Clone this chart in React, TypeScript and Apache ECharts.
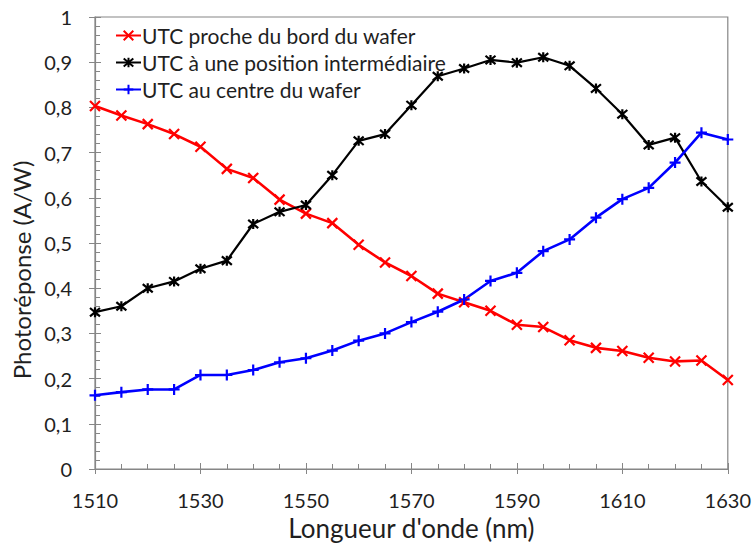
import React, { useEffect, useRef } from "react";
import * as echarts from "echarts";

const wavelengths = [1510, 1515, 1520, 1525, 1530, 1535, 1540, 1545, 1550, 1555, 1560, 1565, 1570, 1575, 1580, 1585, 1590, 1595, 1600, 1605, 1610, 1615, 1620, 1625, 1630];
const edgeValues = [0.803, 0.782, 0.763, 0.741, 0.713, 0.664, 0.644, 0.596, 0.565, 0.544, 0.496, 0.457, 0.427, 0.388, 0.369, 0.35, 0.319, 0.314, 0.285, 0.268, 0.261, 0.246, 0.238, 0.24, 0.197];
const midValues = [0.347, 0.36, 0.4, 0.415, 0.443, 0.461, 0.542, 0.569, 0.584, 0.65, 0.726, 0.741, 0.805, 0.869, 0.886, 0.905, 0.899, 0.911, 0.892, 0.842, 0.785, 0.717, 0.733, 0.636, 0.579];
const centerValues = [0.163, 0.17, 0.176, 0.176, 0.208, 0.208, 0.219, 0.236, 0.245, 0.262, 0.284, 0.3, 0.325, 0.348, 0.375, 0.416, 0.434, 0.482, 0.508, 0.556, 0.597, 0.622, 0.678, 0.744, 0.729];
const seriesNames = ["UTC proche du bord du wafer", "UTC à une position intermédiaire", "UTC au centre du wafer"];
const xTitle = "Longueur d'onde (nm)";
const yTitle = "Photoréponse (A/W)";

const FONT = "Lato";
const CROSS = "path://M0,0L10,10M10,0L0,10";
const STAR = "path://M0,0L10,10M10,0L0,10M5,-1L5,11";
const PLUS = "path://M5,0L5,10M0,5L10,5";

function pairs(vals: number[]) {
  return wavelengths.map((w, i) => [w, vals[i]]);
}

export default function App() {
  const ref = useRef<HTMLDivElement>(null);
  useEffect(() => {
    if (!ref.current) return;
    const chart = echarts.init(ref.current, null, { renderer: "svg" });
    const mk = (name: string, vals: number[], color: string, symbol: string, lw: number, size: number) => ({
      name,
      type: "line",
      data: pairs(vals),
      symbol,
      symbolSize: size,
      showSymbol: true,
      lineStyle: { color, width: lw },
      itemStyle: { color: "none", borderColor: color, borderWidth: 2.2 },
      xAxisIndex: 0,
      yAxisIndex: 0,
      z: 3,
    });
    const axisGrey = "#868686";
    const textColor = "#1f1f1f";
    chart.setOption({
      animation: false,
      backgroundColor: "#fff",
      grid: { left: 95, right: 23, top: 17, bottom: 78, show: true, borderColor: axisGrey, borderWidth: 1.2 },
      legend: {
        orient: "vertical",
        left: 115,
        top: 25,
        itemWidth: 25,
        itemHeight: 12,
        itemGap: 6,
        padding: 0,
        textStyle: { fontFamily: FONT, fontSize: 21, color: textColor, padding: [0, 0, 0, -4] },
        data: seriesNames,
      },
      xAxis: [
        {
          type: "value",
          min: 1510,
          max: 1630,
          interval: 20,
          position: "bottom",
          name: xTitle,
          nameLocation: "middle",
          nameGap: 45,
          nameTextStyle: { fontFamily: FONT, fontSize: 26, color: textColor },
          axisLine: { show: true, lineStyle: { color: axisGrey, width: 1.2 } },
          axisTick: { show: true, inside: false, length: 5, lineStyle: { color: axisGrey } },
          axisLabel: { fontFamily: FONT, fontSize: 20, color: textColor, margin: 21, formatter: (v: number) => String(v) },
          splitLine: { show: false },
        },
        {
          type: "value",
          min: 1510,
          max: 1630,
          interval: 20,
          position: "bottom",
          axisLine: { show: false },
          axisTick: { show: true, inside: true, length: 6, lineStyle: { color: axisGrey } },
          minorTick: { show: true, splitNumber: 4, length: 5, lineStyle: { color: axisGrey } },
          axisLabel: { show: false },
          splitLine: { show: false },
        },
      ],
      yAxis: [
        {
          type: "value",
          min: 0,
          max: 1,
          interval: 0.1,
          position: "left",
          name: yTitle,
          nameLocation: "middle",
          nameGap: 60,
          nameTextStyle: { fontFamily: FONT, fontSize: 24, color: textColor, padding: [0, 54, 0, 0] },
          axisLine: { show: true, lineStyle: { color: axisGrey, width: 1.2 } },
          axisTick: { show: true, inside: false, length: 6, lineStyle: { color: axisGrey } },
          axisLabel: {
            fontFamily: FONT,
            fontSize: 20,
            color: textColor,
            margin: 23,
            formatter: (v: number) => String(Math.round(v * 10) / 10).replace(".", ","),
          },
          splitLine: { show: false },
        },
        {
          type: "value",
          min: 0,
          max: 1,
          interval: 0.1,
          position: "left",
          axisLine: { show: false },
          axisTick: { show: true, inside: true, length: 6, lineStyle: { color: axisGrey } },
          minorTick: { show: true, splitNumber: 5, length: 5, lineStyle: { color: axisGrey } },
          axisLabel: { show: false },
          splitLine: { show: false },
        },
      ],
      series: [
        mk(seriesNames[0], edgeValues, "#ff0000", CROSS, 2.6, 10),
        mk(seriesNames[1], midValues, "#000000", STAR, 2.2, 10),
        mk(seriesNames[2], centerValues, "#0000ff", PLUS, 2.6, 11),
      ],
    });
    return () => chart.dispose();
  }, []);
  return <div ref={ref} style={{ position: "fixed", left: 0, top: 0, width: 754, height: 547, background: "#fff" }} />;
}
